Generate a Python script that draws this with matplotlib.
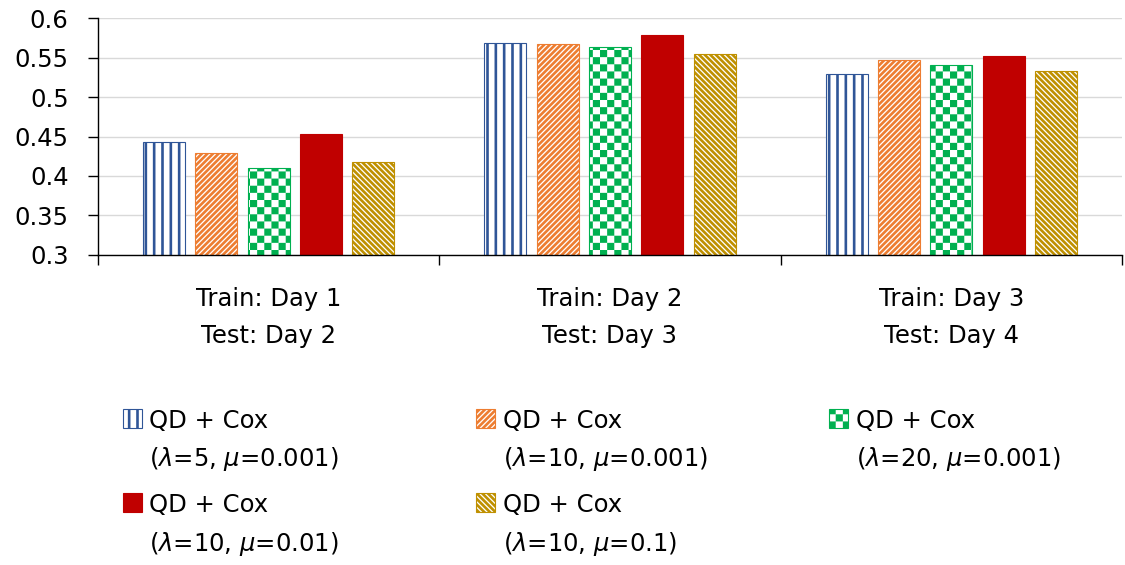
import matplotlib
matplotlib.use("Agg")
import matplotlib.pyplot as plt
import matplotlib.hatch as mhatch
import matplotlib.patches as mpatches
from matplotlib.path import Path
from matplotlib.legend_handler import HandlerPatch
import numpy as np

# ---------------- data ----------------
categories = ["Train: Day 1\nTest: Day 2",
              "Train: Day 2\nTest: Day 3",
              "Train: Day 3\nTest: Day 4"]
series_names = ["QD + Cox\n($\\lambda$=5, $\\mu$=0.001)",
                "QD + Cox\n($\\lambda$=10, $\\mu$=0.001)",
                "QD + Cox\n($\\lambda$=20, $\\mu$=0.001)",
                "QD + Cox\n($\\lambda$=10, $\\mu$=0.01)",
                "QD + Cox\n($\\lambda$=10, $\\mu$=0.1)"]
lam5_mu0001 = [0.443, 0.569, 0.529]
lam10_mu0001 = [0.429, 0.567, 0.547]
lam20_mu0001 = [0.410, 0.563, 0.541]
lam10_mu001 = [0.453, 0.578, 0.552]
lam10_mu01 = [0.418, 0.555, 0.533]
series_values = [lam5_mu0001, lam10_mu0001, lam20_mu0001, lam10_mu001, lam10_mu01]
yticks = [0.3, 0.35, 0.4, 0.45, 0.5, 0.55, 0.6]
ytick_labels = ["0.3", "0.35", "0.4", "0.45", "0.5", "0.55", "0.6"]

# ---------------- styles ----------------
colors = ["#2F5597", "#ED7D31", "#00B050", "#C00000", "#BF9000"]
faces = ["white", "white", "white", "#C00000", "white"]
hatches = ["||", "//////", ".", None, "\\\\\\\\\\\\"]

HATCH_LW = 1.9
plt.rcParams['hatch.linewidth'] = HATCH_LW


# custom checkerboard hatch (replaces the '.' pattern)
class CheckerHatch(mhatch.HatchPatternBase):
    N = 14

    def __init__(self, hatch, density):
        self.on = hatch.count('.') > 0
        self.num_vertices = (self.N * self.N // 2) * 5 if self.on else 0

    def set_vertices_and_codes(self, vertices, codes):
        s = 1.0 / self.N
        inset = (HATCH_LW / 2.0) / 72.0  # compensate stroke width (tile = 1 inch)
        k = 0
        for i in range(self.N):
            for j in range(self.N):
                if (i + j) % 2 == 0:
                    x0, y0 = i * s + inset, j * s + inset
                    x1, y1 = (i + 1) * s - inset, (j + 1) * s - inset
                    vertices[k:k + 5] = [(x0, y0), (x1, y0), (x1, y1),
                                         (x0, y1), (x0, y0)]
                    codes[k:k + 5] = [Path.MOVETO, Path.LINETO, Path.LINETO,
                                      Path.LINETO, Path.CLOSEPOLY]
                    k += 5


mhatch._hatch_types = [t for t in mhatch._hatch_types
                       if t is not mhatch.SmallFilledCircles] + [CheckerHatch]

plt.rcParams['font.family'] = ['DejaVu Sans']
plt.rcParams['mathtext.fontset'] = 'dejavusans'
FS = 17.5
LS = 1.6

fig = plt.figure(figsize=(11.25, 5.65), dpi=100)
ax = fig.add_axes([0.0871, 0.5487, 0.9102, 0.4194])

x = np.arange(len(categories))
step = 0.1534
width = 0.123
containers = []
for i, vals in enumerate(series_values):
    bc = ax.bar(x + (i - 2) * step, vals, width=width, facecolor=faces[i],
                edgecolor=colors[i], hatch=hatches[i], linewidth=0.8, zorder=2)
    containers.append(bc)

ax.set_xlim(-0.5, len(categories) - 0.5)
ax.set_ylim(0.3, 0.6)
ax.set_yticks(yticks)
ax.set_yticklabels(ytick_labels, fontsize=FS)
ax.set_xticks(x)
ax.set_xticklabels(categories, fontsize=FS, linespacing=1.7)
ax.set_xticks(np.arange(-0.5, len(categories)), minor=True)
ax.tick_params(axis='x', which='major', length=0, pad=23)
ax.tick_params(axis='x', which='minor', length=7.2, width=1.0, direction='out', color='black')
ax.tick_params(axis='y', which='major', length=7.2, width=1.0, direction='out', pad=14, color='black')
ax.yaxis.grid(True, color='#D9D9D9', linewidth=1.0)
ax.set_axisbelow(True)
for s in ['top', 'right']:
    ax.spines[s].set_visible(False)
for s in ['left', 'bottom']:
    ax.spines[s].set_linewidth(1.0)
    ax.spines[s].set_color('black')

SQ = 13.8
YC = 23.0


class SquareHandler(HandlerPatch):
    def create_artists(self, legend, orig_handle, xdescent, ydescent, width, height,
                       fontsize, trans):
        p = mpatches.Rectangle((-xdescent, YC - SQ / 2), SQ, SQ)
        self.update_prop(p, orig_handle, legend)
        p.set_transform(trans)
        return [p]


columns = [[0, 3], [1, 4], [2]]
col_x = [0.1091, 0.4231, 0.7369]
for cx, idxs in zip(col_x, columns):
    leg = fig.legend(handles=[containers[k].patches[0] for k in idxs],
                     labels=[series_names[k] for k in idxs],
                     loc='upper left', bbox_to_anchor=(cx, 0.2767),
                     bbox_transform=fig.transFigure, frameon=False,
                     borderpad=0, borderaxespad=0, handlelength=0.81,
                     handleheight=0.7, handletextpad=0.29, labelspacing=0.81,
                     prop={'size': FS},
                     handler_map={mpatches.Rectangle: SquareHandler()})
    for t in leg.get_texts():
        t.set_linespacing(LS)

fig.savefig("out.png", dpi=100)
